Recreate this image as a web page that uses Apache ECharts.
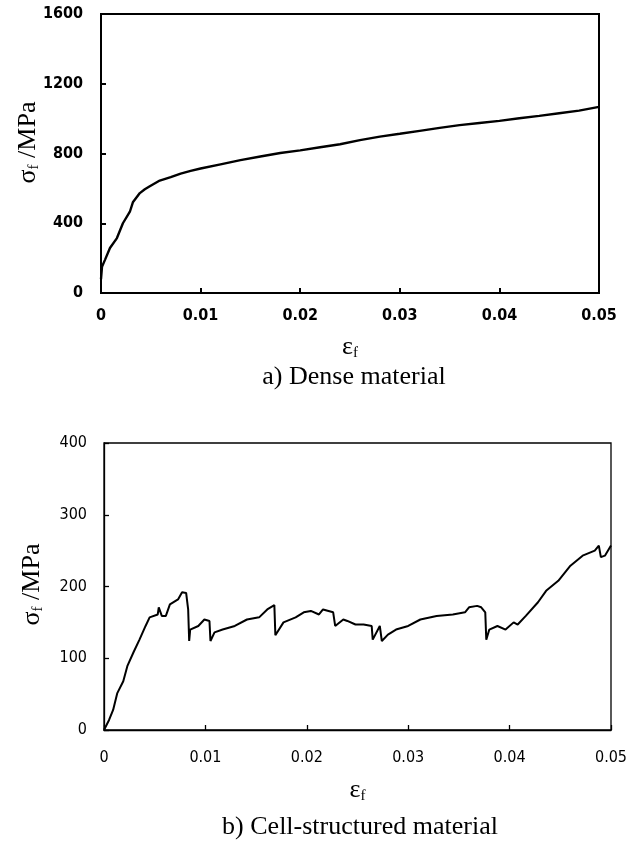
<!DOCTYPE html>
<html>
<head>
<meta charset="utf-8">
<script src="https://cdn.jsdelivr.net/npm/echarts@6/dist/echarts.min.js"></script>
<style>
html,body{margin:0;padding:0;background:#fff;}
#c{width:628px;height:845px;}
</style>
</head>
<body>
<div id="c"></div>
<script>
// Top panel: dense material
const epsDense = [0, 0.0001, 0.0004, 0.0009, 0.0016, 0.0022, 0.0029, 0.0032, 0.0039, 0.0044, 0.0049, 0.0059, 0.007, 0.008, 0.009, 0.010, 0.012, 0.014, 0.016, 0.018, 0.020, 0.022, 0.024, 0.026, 0.028, 0.030, 0.032, 0.034, 0.036, 0.038, 0.040, 0.042, 0.044, 0.046, 0.048, 0.050];
const sigmaDense = [80, 150, 190, 258, 315, 400, 466, 520, 573, 595, 612, 645, 665, 685, 700, 714, 738, 762, 783, 803, 818, 836, 853, 877, 897, 913, 930, 947, 963, 975, 987, 1002, 1016, 1031, 1046, 1067];

// Bottom panel: cell-structured material
const epsCell = [0, 0.0005, 0.0009, 0.0013, 0.0019, 0.0023, 0.0029, 0.0035, 0.0041, 0.0045, 0.0053, 0.0054, 0.0057, 0.0061, 0.0065, 0.0073, 0.0077, 0.0081, 0.0083, 0.0084, 0.0085, 0.0093, 0.0099, 0.0104, 0.0105, 0.0109, 0.0117, 0.0129, 0.0141, 0.0153, 0.0161, 0.0168, 0.0169, 0.0177, 0.0189, 0.0197, 0.0204, 0.0212, 0.0216, 0.0226, 0.0228, 0.0236, 0.0240, 0.0248, 0.0256, 0.0264, 0.0265, 0.0272, 0.0274, 0.0280, 0.0288, 0.0300, 0.0312, 0.0328, 0.0344, 0.0356, 0.0360, 0.0368, 0.0372, 0.0376, 0.0377, 0.0380, 0.0388, 0.0396, 0.0404, 0.0408, 0.0416, 0.0428, 0.0436, 0.0448, 0.0460, 0.0472, 0.0484, 0.0488, 0.0490, 0.0494, 0.0500];
const sigmaCell = [0, 14, 28, 51, 68, 89, 108, 126, 145, 157, 161, 171, 159, 159, 175, 182, 192, 191, 168, 124, 140, 145, 154, 152, 124, 136, 140, 145, 154, 157, 168, 174, 132, 150, 157, 164, 166, 161, 168, 164, 145, 154, 152, 147, 147, 145, 126, 145, 124, 133, 140, 145, 154, 159, 161, 164, 171, 173, 171, 164, 126, 140, 145, 140, 150, 147, 159, 178, 194, 208, 229, 243, 250, 257, 241, 243, 257];

const xTicks = [0, 0.01, 0.02, 0.03, 0.04, 0.05];
const yTicksDense = [0, 400, 800, 1200, 1600];
const yTicksCell = [0, 100, 200, 300, 400];
const captions = ['a) Dense material', 'b) Cell-structured material'];

const sans = "'DejaVu Sans Condensed', 'Liberation Sans', Arial, sans-serif";
const serif = "'Liberation Serif', 'Times New Roman', serif";

const nameRich = {
  g: {fontFamily: serif, fontSize: 26, color: '#000', lineHeight: 28},
  s: {fontFamily: serif, fontSize: 15, color: '#000', lineHeight: 15, verticalAlign: 'bottom'}
};

function xAxisCfg(gi, lw, fs, fw, margin, gap) {
  return {
    gridIndex: gi, type: 'value', min: xTicks[0], max: xTicks[xTicks.length - 1], interval: 0.01,
    axisLine: {show: true, onZero: false, lineStyle: {color: '#000', width: lw}},
    axisTick: {show: true, inside: true, length: 5, lineStyle: {color: '#000', width: lw}},
    axisLabel: {color: '#000', fontFamily: sans, fontSize: fs, fontWeight: fw, margin: margin,
      formatter: v => String(Number(v.toFixed(2)))},
    splitLine: {show: false},
    name: '{g|ε}{s|f}', nameLocation: 'middle', nameGap: gap, nameMoveOverlap: false,
    nameTextStyle: {rich: nameRich}
  };
}
function yAxisCfg(gi, ticks, lw, fs, fw, margin, gap, pad) {
  return {
    gridIndex: gi, type: 'value', min: ticks[0], max: ticks[ticks.length - 1], interval: ticks[1] - ticks[0],
    axisLine: {show: true, onZero: false, lineStyle: {color: '#000', width: lw}},
    axisTick: {show: true, inside: true, length: 5, lineStyle: {color: '#000', width: lw}},
    axisLabel: {color: '#000', fontFamily: sans, fontSize: fs, fontWeight: fw, margin: margin,
      formatter: v => String(v)},
    splitLine: {show: false},
    name: '{g|σ}{s|f}{g| /MPa}', nameLocation: 'middle', nameGap: gap, nameMoveOverlap: false,
    nameTextStyle: {rich: nameRich, padding: pad}
  };
}

const chart = echarts.init(document.getElementById('c'), null, {renderer: 'canvas'});
chart.setOption({
  animation: false,
  backgroundColor: '#fff',
  grid: [
    {left: 101, top: 14, width: 498, height: 279, show: true, borderColor: '#000', borderWidth: 2, containLabel: false, outerBoundsMode: 'none'},
    {left: 104, top: 443, width: 507, height: 287, show: true, borderColor: '#000', borderWidth: 1.3, containLabel: false, outerBoundsMode: 'none'}
  ],
  xAxis: [xAxisCfg(0, 2, 16, 'bold', 15, 40), xAxisCfg(1, 1.3, 16, 'normal', 20, 46)],
  yAxis: [yAxisCfg(0, yTicksDense, 2, 16, 'bold', 18, 59, [0, 0, 0, 22]),
          yAxisCfg(1, yTicksCell, 1.3, 16, 'normal', 17, 58, [0, 0, 0, 4])],
  series: [
    {type: 'line', xAxisIndex: 0, yAxisIndex: 0, showSymbol: false,
      lineStyle: {color: '#000', width: 2.4}, data: epsDense.map((e, i) => [e, sigmaDense[i]])},
    {type: 'line', xAxisIndex: 1, yAxisIndex: 1, showSymbol: false,
      lineStyle: {color: '#000', width: 2}, data: epsCell.map((e, i) => [e, sigmaCell[i]])}
  ],
  graphic: [
    {type: 'text', x: 354, y: 377, style: {text: captions[0], font: '26px ' + serif, fill: '#000', align: 'center', verticalAlign: 'middle'}},
    {type: 'text', x: 360, y: 827, style: {text: captions[1], font: '26px ' + serif, fill: '#000', align: 'center', verticalAlign: 'middle'}}
  ]
});
</script>
</body>
</html>
